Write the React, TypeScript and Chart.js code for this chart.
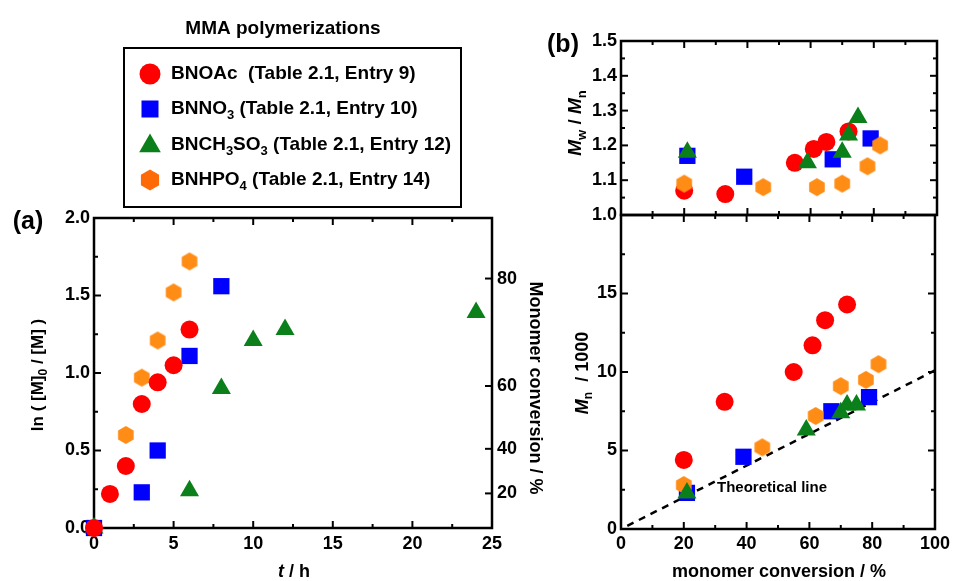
import React, { useEffect, useRef } from "react";
import { Chart, registerables } from "chart.js";
Chart.register(...registerables);

// ---------- data ----------
const COLOR_OAC = "#FF0000";
const COLOR_NO3 = "#0000FF";
const COLOR_CH3SO3 = "#0B7F1A";
const COLOR_HPO4 = "#FF8C14";
const COLOR_HPO4_LEGEND = "#FF6A08";

// Panel (a): ln([M]0/[M]) vs time
const TIME_OAC = [0, 1, 2, 3, 4, 5, 6];
const LN_OAC = [0, 0.22, 0.4, 0.8, 0.94, 1.05, 1.28];
const TIME_NO3 = [0, 3, 4, 6, 8];
const LN_NO3 = [0, 0.23, 0.5, 1.11, 1.56];
const TIME_CH3SO3 = [0, 6, 8, 10, 12, 24];
const LN_CH3SO3 = [0, 0.24, 0.9, 1.21, 1.28, 1.39];
const TIME_HPO4 = [0, 2, 3, 4, 5, 6];
const LN_HPO4 = [0, 0.6, 0.97, 1.21, 1.52, 1.72];

const TIME_TICKS = [0, 5, 10, 15, 20, 25];
const LN_TICKS = [0, 0.5, 1.0, 1.5, 2.0];
const CONV_TICKS = [20, 40, 60, 80];

// Panel (b): Mw/Mn and Mn vs conversion
const CONV_OAC = [20, 33, 55, 61, 65, 72];
const PDI_OAC = [1.07, 1.06, 1.15, 1.19, 1.21, 1.24];
const MN_OAC = [4.4, 8.1, 10.0, 11.7, 13.3, 14.3];
const CONV_NO3 = [21, 39, 67, 79];
const PDI_NO3 = [1.17, 1.11, 1.16, 1.22];
const MN_NO3 = [2.3, 4.6, 7.5, 8.4];
const CONV_CH3SO3 = [21, 59, 70, 72, 75];
const PDI_CH3SO3 = [1.18, 1.15, 1.18, 1.23, 1.28];
const MN_CH3SO3 = [2.3, 6.3, 7.4, 7.9, 7.9];
const CONV_HPO4 = [20, 45, 62, 70, 78, 82];
const PDI_HPO4 = [1.09, 1.08, 1.08, 1.09, 1.14, 1.2];
const MN_HPO4 = [2.8, 5.2, 7.2, 9.1, 9.5, 10.5];

const THEO_CONV = [2, 100];
const THEO_MN = [0.2, 10.1];

const CONV_AXIS_TICKS = [0, 20, 40, 60, 80, 100];
const PDI_TICKS = [1.0, 1.1, 1.2, 1.3, 1.4, 1.5];
const MN_TICKS = [0, 5, 10, 15, 20];

const LEGEND_TITLE = "MMA polymerizations";
type Part = { t: string; it?: boolean; sub?: boolean };
const LEGEND_PARTS: Part[][] = [
  [{ t: "BNOAc  (Table 2.1, Entry 9)" }],
  [{ t: "BNNO" }, { t: "3", sub: true }, { t: " (Table 2.1, Entry 10)" }],
  [{ t: "BNCH" }, { t: "3", sub: true }, { t: "SO" }, { t: "3", sub: true }, { t: " (Table 2.1, Entry 12)" }],
  [{ t: "BNHPO" }, { t: "4", sub: true }, { t: " (Table 2.1, Entry 14)" }],
];

// ---------- helpers ----------
const FF = "'Liberation Sans', Arial, Helvetica, sans-serif";
const TICK_FONT = { family: FF, size: 18, weight: "bold" as const };

const pts = (xs: number[], ys: number[]) => xs.map((x, i) => ({ x, y: ys[i] }));
const convToLn = (c: number) => Math.log(100 / (100 - c));
const mids = (arr: number[]) => arr.slice(1).map((v, i) => (v + arr[i]) / 2);

function makeHexagon(R: number, color: string) {
  const c = document.createElement("canvas");
  const w = Math.ceil(Math.sqrt(3) * R) + 2;
  const h = Math.ceil(2 * R) + 2;
  c.width = w;
  c.height = h;
  const g = c.getContext("2d")!;
  g.fillStyle = color;
  hexPath(g, w / 2, h / 2, R);
  g.fill();
  return c;
}
function hexPath(g: CanvasRenderingContext2D, x: number, y: number, R: number) {
  g.beginPath();
  for (let i = 0; i < 6; i++) {
    const a = -Math.PI / 2 + (i * Math.PI) / 3;
    const px = x + R * Math.cos(a);
    const py = y + R * Math.sin(a);
    if (i) g.lineTo(px, py);
    else g.moveTo(px, py);
  }
  g.closePath();
}

function drawRich(
  ctx: CanvasRenderingContext2D,
  parts: Part[],
  x: number,
  y: number,
  rot: number,
  size: number,
  align: "left" | "center" = "center",
  weight = "bold"
) {
  ctx.save();
  ctx.translate(x, y);
  ctx.rotate(rot);
  ctx.fillStyle = "#000";
  ctx.textBaseline = "middle";
  ctx.textAlign = "left";
  const fontOf = (p: Part) =>
    `${p.it ? "italic " : ""}${weight} ${p.sub ? Math.round(size * 0.68) : size}px ${FF}`;
  let total = 0;
  const widths = parts.map((p) => {
    ctx.font = fontOf(p);
    const w = ctx.measureText(p.t).width;
    total += w;
    return w;
  });
  let cx = align === "center" ? -total / 2 : 0;
  parts.forEach((p, i) => {
    ctx.font = fontOf(p);
    ctx.fillText(p.t, cx, p.sub ? size * 0.32 : 0);
    cx += widths[i];
  });
  ctx.restore();
}

const MAJ = 7;
const MIN = 4;
type TickSpec = { scale: string; major: number[]; minor: number[]; sides: string[] };
function tickLine(ctx: CanvasRenderingContext2D, a: any, side: string, p: number, len: number) {
  ctx.beginPath();
  if (side === "bottom") {
    ctx.moveTo(p, a.bottom);
    ctx.lineTo(p, a.bottom - len);
  } else if (side === "top") {
    ctx.moveTo(p, a.top);
    ctx.lineTo(p, a.top + len);
  } else if (side === "left") {
    ctx.moveTo(a.left, p);
    ctx.lineTo(a.left + len, p);
  } else {
    ctx.moveTo(a.right, p);
    ctx.lineTo(a.right - len, p);
  }
  ctx.stroke();
}
function framePlugin(id: string, specs: TickSpec[], extra?: (ctx: CanvasRenderingContext2D, chart: any) => void) {
  return {
    id,
    beforeDatasetsDraw(chart: any) {
      const { ctx, chartArea: a, scales } = chart;
      ctx.save();
      ctx.strokeStyle = "#000";
      ctx.lineWidth = 2.5;
      ctx.strokeRect(a.left, a.top, a.right - a.left, a.bottom - a.top);
      ctx.lineWidth = 2;
      specs.forEach((s) => {
        const sc = scales[s.scale];
        s.sides.forEach((side) => {
          s.major.forEach((v) => tickLine(ctx, a, side, sc.getPixelForValue(v), MAJ));
          s.minor.forEach((v) => tickLine(ctx, a, side, sc.getPixelForValue(v), MIN));
        });
      });
      ctx.restore();
    },
    afterDraw(chart: any) {
      if (extra) extra(chart.ctx, chart);
    },
  };
}

const noGrid = { display: false, drawTicks: false, tickLength: 0 };
const noBorder = { display: false };

function scatterSet(data: { x: number; y: number }[], style: any, color: string, radius: number) {
  return {
    data,
    pointStyle: style,
    pointRadius: radius,
    pointHoverRadius: radius,
    backgroundColor: color,
    borderColor: color,
    borderWidth: 0,
    pointBorderWidth: 0,
    clip: false as const,
  };
}

function datasetsA(hex: HTMLCanvasElement) {
  return [
    scatterSet(pts(TIME_OAC, LN_OAC), "circle", COLOR_OAC, 9),
    scatterSet(pts(TIME_NO3, LN_NO3), "rect", COLOR_NO3, 11.5),
    scatterSet(pts(TIME_HPO4, LN_HPO4), hex, COLOR_HPO4, 9),
    scatterSet(pts(TIME_CH3SO3, LN_CH3SO3), "triangle", COLOR_CH3SO3, 11),
  ];
}

function drawLegendMarker(ctx: CanvasRenderingContext2D, kind: number, x: number, y: number) {
  ctx.save();
  if (kind === 0) {
    ctx.fillStyle = COLOR_OAC;
    ctx.beginPath();
    ctx.arc(x, y, 10.5, 0, Math.PI * 2);
    ctx.fill();
  } else if (kind === 1) {
    ctx.fillStyle = COLOR_NO3;
    ctx.fillRect(x - 8.5, y - 8.5, 17, 17);
  } else if (kind === 2) {
    ctx.fillStyle = COLOR_CH3SO3;
    const r = 12.5;
    ctx.beginPath();
    ctx.moveTo(x, y - r);
    ctx.lineTo(x + r * 0.866, y + r * 0.5);
    ctx.lineTo(x - r * 0.866, y + r * 0.5);
    ctx.closePath();
    ctx.fill();
  } else {
    ctx.fillStyle = COLOR_HPO4_LEGEND;
    hexPath(ctx, x, y, 10.5);
    ctx.fill();
  }
  ctx.restore();
}

export default function App() {
  const refA = useRef<HTMLCanvasElement>(null);
  const refB1 = useRef<HTMLCanvasElement>(null);
  const refB2 = useRef<HTMLCanvasElement>(null);

  useEffect(() => {
    Chart.defaults.font.family = FF;
    const hex = makeHexagon(9, COLOR_HPO4);

    const extraA = (ctx: CanvasRenderingContext2D) => {
      // panel label
      drawRich(ctx, [{ t: "(a)" }], 28, 222, 0, 25);
      // axis titles
      drawRich(ctx, [{ t: "ln ( [M]" }, { t: "0", sub: true }, { t: " / [M] )" }], 38, 375, -Math.PI / 2, 17);
      drawRich(ctx, [{ t: "t", it: true }, { t: " / h" }], 294, 572, 0, 18);
      drawRich(ctx, [{ t: "Monomer conversion / %" }], 535, 388, Math.PI / 2, 18);
      // legend
      drawRich(ctx, [{ t: LEGEND_TITLE }], 283, 29, 0, 19);
      ctx.save();
      ctx.strokeStyle = "#000";
      ctx.lineWidth = 2;
      ctx.strokeRect(124, 48, 337, 159);
      ctx.restore();
      const rows = [74, 109, 145, 180];
      LEGEND_PARTS.forEach((parts, i) => {
        drawLegendMarker(ctx, i, 150, rows[i] + (i === 2 ? 1 : 0));
        drawRich(ctx, parts, 171, rows[i], 0, 19, "left");
      });
    };

    const chartA = new Chart(refA.current!, {
      type: "scatter",
      data: { datasets: datasetsA(hex) as any },
      options: {
        animation: false,
        responsive: false,
        devicePixelRatio: 1,
        layout: { padding: { top: 218, left: 0, right: 0, bottom: 0 } },
        plugins: { legend: { display: false }, tooltip: { enabled: false } },
        scales: {
          x: {
            type: "linear",
            position: "bottom",
            min: 0,
            max: 25,
            grid: noGrid,
            border: noBorder,
            afterBuildTicks: (s: any) => {
              s.ticks = TIME_TICKS.map((v) => ({ value: v }));
            },
            ticks: { font: TICK_FONT, color: "#000", padding: 5, maxRotation: 0, autoSkip: false },
            afterFit: (s: any) => {
              s.height = 53;
            },
          },
          y: {
            type: "linear",
            position: "left",
            min: 0,
            max: 2,
            grid: noGrid,
            border: noBorder,
            afterBuildTicks: (s: any) => {
              s.ticks = LN_TICKS.map((v) => ({ value: v }));
            },
            ticks: {
              font: TICK_FONT,
              color: "#000",
              padding: 4,
              autoSkip: false,
              callback: (v: any) => Number(v).toFixed(1),
            },
            afterFit: (s: any) => {
              s.width = 94;
            },
          },
          y2: {
            type: "linear",
            position: "right",
            min: 0,
            max: 2,
            grid: noGrid,
            border: noBorder,
            afterBuildTicks: (s: any) => {
              s.ticks = CONV_TICKS.map((c) => ({ value: convToLn(c) }));
            },
            ticks: {
              font: TICK_FONT,
              color: "#000",
              padding: 5,
              autoSkip: false,
              callback: (_v: any, i: number) => String(CONV_TICKS[i]),
            },
            afterFit: (s: any) => {
              s.width = 954 - 492;
            },
          },
        },
      } as any,
      plugins: [
        framePlugin(
          "frameA",
          [
            { scale: "x", major: TIME_TICKS, minor: mids(TIME_TICKS), sides: ["bottom", "top"] },
            { scale: "y", major: LN_TICKS, minor: mids(LN_TICKS), sides: ["left"] },
            { scale: "y2", major: CONV_TICKS.map(convToLn), minor: [], sides: ["right"] },
          ],
          extraA
        ),
      ],
    });

    const dsB = (ys: number[][]) => [
      scatterSet(pts(CONV_CH3SO3, ys[2]), "triangle", COLOR_CH3SO3, 11),
      scatterSet(pts(CONV_HPO4, ys[3]), hex, COLOR_HPO4, 9),
      scatterSet(pts(CONV_NO3, ys[1]), "rect", COLOR_NO3, 11.5),
      scatterSet(pts(CONV_OAC, ys[0]), "circle", COLOR_OAC, 9),
    ];

    const chartB1 = new Chart(refB1.current!, {
      type: "scatter",
      data: { datasets: dsB([PDI_OAC, PDI_NO3, PDI_CH3SO3, PDI_HPO4]) as any },
      options: {
        animation: false,
        responsive: false,
        devicePixelRatio: 1,
        layout: { padding: { top: 41, left: 0, right: 17, bottom: 581 - 215 } },
        plugins: { legend: { display: false }, tooltip: { enabled: false } },
        scales: {
          x: { type: "linear", display: false, min: 0, max: 100 },
          y: {
            type: "linear",
            position: "left",
            min: 1.0,
            max: 1.5,
            grid: noGrid,
            border: noBorder,
            afterBuildTicks: (s: any) => {
              s.ticks = PDI_TICKS.map((v) => ({ value: v }));
            },
            ticks: {
              font: TICK_FONT,
              color: "#000",
              padding: 4,
              autoSkip: false,
              callback: (v: any) => Number(v).toFixed(1),
            },
            afterFit: (s: any) => {
              s.width = 621;
            },
          },
        },
      } as any,
      plugins: [
        framePlugin(
          "frameB1",
          [
            { scale: "x", major: CONV_AXIS_TICKS, minor: mids(CONV_AXIS_TICKS), sides: ["bottom", "top"] },
            { scale: "y", major: PDI_TICKS, minor: mids(PDI_TICKS), sides: ["left", "right"] },
          ],
          (ctx) => {
            drawRich(ctx, [{ t: "(b)" }], 563, 45, 0, 25);
            drawRich(
              ctx,
              [{ t: "M", it: true }, { t: "w", sub: true }, { t: " / " }, { t: "M", it: true }, { t: "n", sub: true }],
              576,
              123,
              -Math.PI / 2,
              19
            );
          }
        ),
      ],
    });

    const lineSet = {
      type: "line",
      data: pts(THEO_CONV, THEO_MN),
      borderColor: "#000",
      borderWidth: 2.5,
      borderDash: [7, 6],
      pointRadius: 0,
      fill: false,
      showLine: true,
      clip: false,
    };

    const chartB2 = new Chart(refB2.current!, {
      type: "scatter",
      data: { datasets: [...dsB([MN_OAC, MN_NO3, MN_CH3SO3, MN_HPO4]), lineSet] as any },
      options: {
        animation: false,
        responsive: false,
        devicePixelRatio: 1,
        layout: { padding: { top: 215, left: 0, right: 17, bottom: 0 } },
        plugins: { legend: { display: false }, tooltip: { enabled: false } },
        scales: {
          x: {
            type: "linear",
            position: "bottom",
            min: 0,
            max: 100,
            grid: noGrid,
            border: noBorder,
            afterBuildTicks: (s: any) => {
              s.ticks = CONV_AXIS_TICKS.map((v) => ({ value: v }));
            },
            ticks: { font: TICK_FONT, color: "#000", padding: 4, maxRotation: 0, autoSkip: false },
            afterFit: (s: any) => {
              s.height = 581 - 529;
            },
          },
          y: {
            type: "linear",
            position: "left",
            min: 0,
            max: 20,
            grid: noGrid,
            border: noBorder,
            afterBuildTicks: (s: any) => {
              s.ticks = MN_TICKS.map((v) => ({ value: v }));
            },
            ticks: {
              font: TICK_FONT,
              color: "#000",
              padding: 4,
              autoSkip: false,
              callback: (v: any) => (Number(v) === 20 ? "" : String(v)),
            },
            afterFit: (s: any) => {
              s.width = 621;
            },
          },
        },
      } as any,
      plugins: [
        framePlugin(
          "frameB2",
          [
            { scale: "x", major: CONV_AXIS_TICKS, minor: mids(CONV_AXIS_TICKS), sides: ["bottom", "top"] },
            { scale: "y", major: MN_TICKS, minor: mids(MN_TICKS), sides: ["left", "right"] },
          ],
          (ctx) => {
            drawRich(ctx, [{ t: "M", it: true }, { t: "n", sub: true }, { t: "  / 1000" }], 583, 373, -Math.PI / 2, 18);
            drawRich(ctx, [{ t: "monomer conversion / %" }], 779, 572, 0, 18);
            drawRich(ctx, [{ t: "Theoretical line" }], 717, 488, 0, 15, "left");
          }
        ),
      ],
    });

    return () => {
      chartA.destroy();
      chartB1.destroy();
      chartB2.destroy();
    };
  }, []);

  const cs: React.CSSProperties = { position: "absolute", left: 0, top: 0, width: 954, height: 581 };
  return (
    <div style={{ position: "fixed", left: 0, top: 0, width: 954, height: 581, background: "#fff", overflow: "hidden" }}>
      <canvas ref={refB2} width={954} height={581} style={cs} />
      <canvas ref={refB1} width={954} height={581} style={cs} />
      <canvas ref={refA} width={954} height={581} style={cs} />
    </div>
  );
}
